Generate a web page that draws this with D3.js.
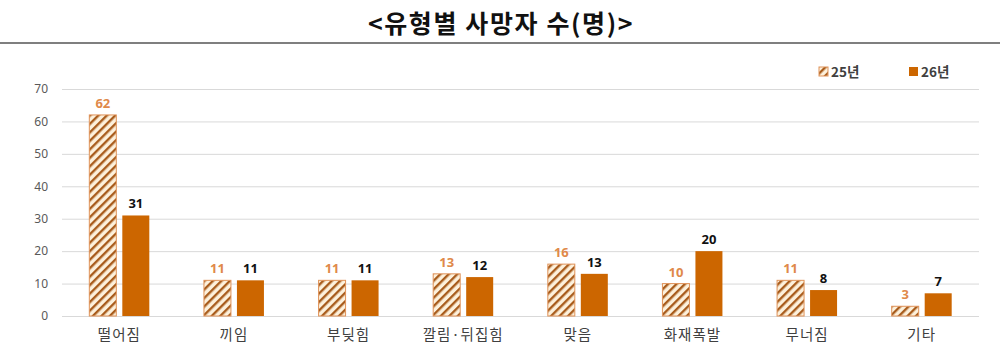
<!DOCTYPE html>
<html><head><meta charset="utf-8">
<script src="https://cdn.jsdelivr.net/npm/d3@7"></script>
<style>body{margin:0;background:#fff;font-family:"Noto Sans CJK KR","Noto Sans",sans-serif;}</style>
</head><body><svg id="c" width="1000" height="361"></svg>
<script>
const categories = ["떨어짐","끼임","부딪힘","깔림·뒤집힘","맞음","화재폭발","무너짐","기타"];
const series25 = [62,11,11,13,16,10,11,3];
const series26 = [31,11,11,12,13,20,8,7];
const seriesNames = ["25년","26년"];
const yTicks = [0,10,20,30,40,50,60,70];
const title = "<유형별 사망자 수(명)>";

const svg = d3.select("#c");
const defs = svg.append("defs");
const pat = defs.append("pattern").attr("id","hatch").attr("patternUnits","userSpaceOnUse")
  .attr("width",6).attr("height",6).attr("patternTransform","rotate(45)");
pat.append("rect").attr("width",6).attr("height",6).attr("fill","#fdf1dc");
pat.append("rect").attr("x",0).attr("width",2.4).attr("height",6).attr("fill","#a85c1c");

svg.append("text").attr("x",501).attr("y",33).attr("text-anchor","middle")
  .attr("font-size",25).attr("font-weight","bold").attr("letter-spacing",1.6)
  .attr("fill","#111").text(title);
svg.append("line").attr("x1",0).attr("x2",1000).attr("y1",43).attr("y2",43)
  .attr("stroke","#555").attr("stroke-width",1.5);

const x = d3.scaleBand().domain(categories).range([62,979]);
const y = d3.scaleLinear().domain([0,70]).range([316,89]);
const bw = 27, gap = 6;

const yAxis = svg.append("g").attr("transform","translate(62,0)")
  .call(d3.axisLeft(y).tickValues(yTicks).tickSize(-(979-62)).tickPadding(14));
yAxis.select(".domain").remove();
yAxis.selectAll(".tick line").attr("stroke","#d9d9d9").attr("stroke-width",1);
yAxis.selectAll(".tick text").attr("font-size",12).attr("fill","#595959")
  .attr("font-family","'Noto Sans', sans-serif");

const xAxis = svg.append("g").attr("transform","translate(0,316)")
  .call(d3.axisBottom(x).tickSize(0).tickPadding(14));
xAxis.select(".domain").remove();
xAxis.selectAll(".tick text").attr("font-size",14.5).attr("fill","#404040")
  .attr("letter-spacing",1).attr("font-family","'Noto Sans CJK KR', sans-serif");

const cx = c => x(c) + x.bandwidth()/2;
const g = svg.append("g");
g.selectAll(".b25").data(categories).enter().append("rect")
  .attr("x",c=>cx(c)-gap/2-bw).attr("width",bw)
  .attr("y",(c,i)=>y(series25[i])).attr("height",(c,i)=>y(0)-y(series25[i]))
  .attr("fill","url(#hatch)").attr("stroke","#e0935a").attr("stroke-width",1);
g.selectAll(".b26").data(categories).enter().append("rect")
  .attr("x",c=>cx(c)+gap/2).attr("width",bw)
  .attr("y",(c,i)=>y(series26[i])).attr("height",(c,i)=>y(0)-y(series26[i]))
  .attr("fill","#cc6600");
g.selectAll(".l25").data(categories).enter().append("text")
  .attr("x",c=>cx(c)-gap/2-bw/2).attr("y",(c,i)=>y(series25[i])-7)
  .attr("text-anchor","middle").attr("font-size",13).attr("font-weight","bold")
  .attr("fill","#e0894a").attr("font-family","'Noto Sans', sans-serif")
  .text((c,i)=>series25[i]);
g.selectAll(".l26").data(categories).enter().append("text")
  .attr("x",c=>cx(c)+gap/2+bw/2).attr("y",(c,i)=>y(series26[i])-7)
  .attr("text-anchor","middle").attr("font-size",13).attr("font-weight","bold")
  .attr("fill","#111").attr("font-family","'Noto Sans', sans-serif")
  .text((c,i)=>series26[i]);

const leg = svg.append("g");
const lx = [819, 909];
seriesNames.forEach((s,i)=>{
  leg.append("rect").attr("x",lx[i]).attr("y",67).attr("width",9).attr("height",9)
    .attr("fill", i===0 ? "url(#hatch)" : "#cc6600")
    .attr("stroke", i===0 ? "#e0935a" : "none");
  leg.append("text").attr("x",lx[i]+12).attr("y",76.5).attr("font-size",13.5)
    .attr("font-weight","bold").attr("fill","#404040").text(s);
});
</script></body></html>
